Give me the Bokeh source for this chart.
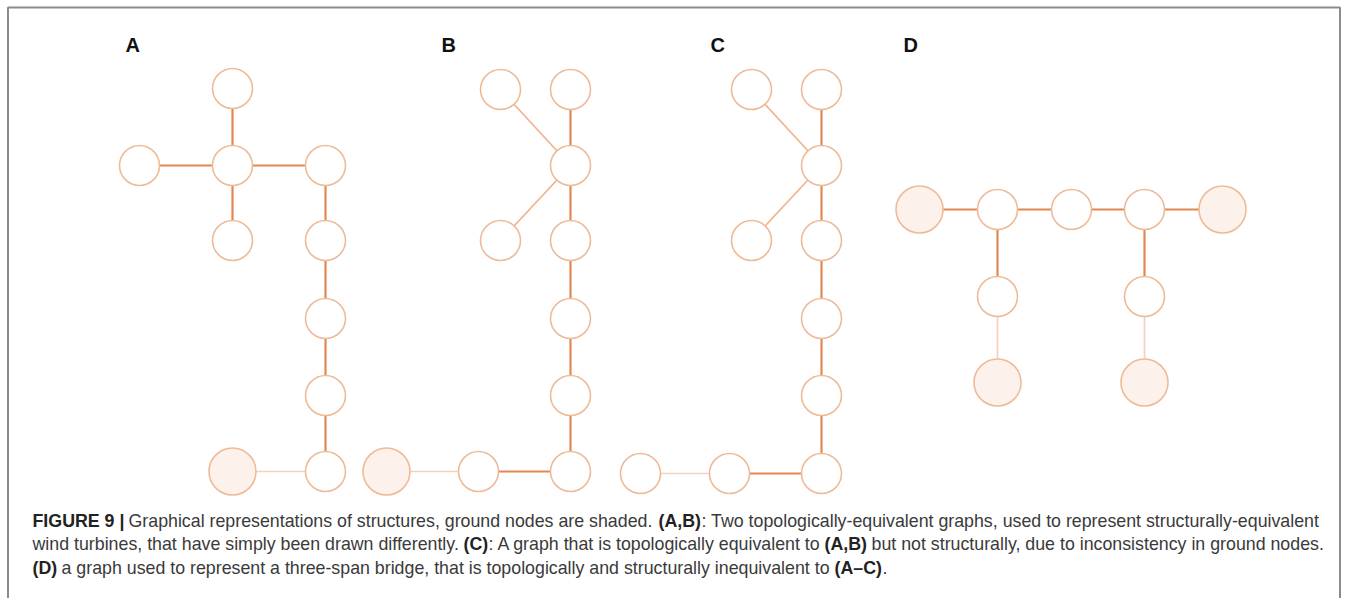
from bokeh.plotting import figure
from bokeh.models import Range1d, ColumnDataSource
from bokeh.embed import file_html
from bokeh.resources import INLINE
from bokeh.core.properties import value

# ---------------- data (diagram node coordinates, picture pixels) ----------------
panel_labels = ["A", "B", "C", "D"]
label_x = [125, 441, 710, 903]
label_y = [44, 44, 44, 44]

A_x = [232, 139, 232, 325, 232, 325, 325, 325, 325, 232]
A_y = [88, 165, 165, 165, 240, 240, 318, 395, 471, 471]
A_ground = [0, 0, 0, 0, 0, 0, 0, 0, 0, 1]
A_edges = [(0, 2, "d"), (1, 2, "d"), (2, 3, "d"), (2, 4, "d"), (3, 5, "d"),
           (5, 6, "d"), (6, 7, "d"), (7, 8, "d"), (8, 9, "l")]

B_x = [500, 570, 570, 500, 570, 570, 570, 570, 478, 386]
B_y = [89, 89, 165, 240, 240, 318, 395, 471, 471, 471]
B_ground = [0, 0, 0, 0, 0, 0, 0, 0, 0, 1]
B_edges = [(0, 2, "m"), (1, 2, "d"), (3, 2, "m"), (2, 4, "d"), (4, 5, "d"),
           (5, 6, "d"), (6, 7, "d"), (7, 8, "d"), (8, 9, "l")]

C_x = [751, 821, 821, 751, 821, 821, 821, 821, 729, 640]
C_y = [89, 89, 165, 240, 240, 318, 395, 473, 473, 473]
C_ground = [0, 0, 0, 0, 0, 0, 0, 0, 0, 0]
C_edges = [(0, 2, "m"), (1, 2, "d"), (3, 2, "m"), (2, 4, "d"), (4, 5, "d"),
           (5, 6, "d"), (6, 7, "d"), (7, 8, "d"), (8, 9, "l")]

D_x = [919, 997, 1071, 1144, 1222, 997, 1144, 997, 1144]
D_y = [209, 209, 209, 209, 209, 296, 296, 382, 382]
D_ground = [1, 0, 0, 0, 1, 0, 0, 1, 1]
D_edges = [(0, 1, "d"), (1, 2, "d"), (2, 3, "d"), (3, 4, "d"), (1, 5, "d"),
           (3, 6, "d"), (5, 7, "l"), (6, 8, "l")]

caption_text = [
    "FIGURE 9 |",
    "Graphical representations of structures, ground nodes are shaded.",
    "(A,B)",
    ": Two topologically-equivalent graphs, used to represent structurally-equivalent",
    "wind turbines, that have simply been drawn differently.",
    "(C)",
    ": A graph that is topologically equivalent to",
    "(A,B)",
    "but not structurally, due to inconsistency in ground nodes.",
    "(D)",
    "a graph used to represent a three-span bridge, that is topologically and structurally inequivalent to",
    "(A\u2013C)",
    ".",
]
caption_bold = [1, 0, 1, 0, 0, 1, 0, 1, 0, 1, 0, 1, 0]
caption_line = [0, 0, 0, 0, 1, 1, 1, 1, 1, 2, 2, 2, 2]
# layout: start x of every caption segment (px)
caption_x = [32, 128, 658, 701, 32, 463, 488, 824, 871, 32, 61, 834, 882]

# ---------------- styles ----------------
W, H = 1341, 598
NODE_LINE = "#eebb98"
GROUND_FILL = "#fcf1eb"
EDGE_COL = {"d": "#e3864f", "m": "#efb58f", "l": "#f5d2bd"}
EDGE_W = {"d": 2.2, "m": 1.7, "l": 1.7}
R_NODE, R_GROUND = 20, 23.5
LINE0, LINE_GAP = 520, 23.5

p = figure(width=W, height=H, output_backend="svg", toolbar_location=None,
           x_range=Range1d(0, W), y_range=Range1d(H, 0),
           x_axis_location=None, y_axis_location=None,
           min_border=0, min_border_left=0, min_border_right=0,
           min_border_top=0, min_border_bottom=0)
p.grid.visible = False
p.outline_line_color = None
p.background_fill_color = "white"
p.border_fill_color = "white"

# figure frame (gray box, open at the bottom)
p.multi_line(xs=[[7.5, 7.5, W - 1.5, W - 1.5]], ys=[[H + 20, 7, 7, H + 20]],
             line_color="#8c8c8c", line_width=2)

panels = [(A_x, A_y, A_ground, A_edges), (B_x, B_y, B_ground, B_edges),
          (C_x, C_y, C_ground, C_edges), (D_x, D_y, D_ground, D_edges)]

ex0, ey0, ex1, ey1, ecol, ew = [], [], [], [], [], []
nx, ny, nr, nf = [], [], [], []
for xs, ys, gs, edges in panels:
    for a, b, kind in edges:
        ex0.append(xs[a]); ey0.append(ys[a])
        ex1.append(xs[b]); ey1.append(ys[b])
        ecol.append(EDGE_COL[kind]); ew.append(EDGE_W[kind])
    for x, y, g in zip(xs, ys, gs):
        nx.append(x); ny.append(y)
        nr.append(R_GROUND if g else R_NODE)
        nf.append(GROUND_FILL if g else "white")

p.segment(x0="x0", y0="y0", x1="x1", y1="y1", line_color="c", line_width="w",
          source=ColumnDataSource(dict(x0=ex0, y0=ey0, x1=ex1, y1=ey1, c=ecol, w=ew)))
p.circle(x="x", y="y", radius="r", fill_color="f", line_color=NODE_LINE, line_width=1.6,
         source=ColumnDataSource(dict(x=nx, y=ny, r=nr, f=nf)))

p.text(x=label_x, y=label_y, text=panel_labels, text_font=value("Liberation Sans"),
       text_font_size="20px", text_font_style="bold", text_color="#111111",
       text_align="left", text_baseline="alphabetic")

for bold in (0, 1):
    idx = [i for i, b in enumerate(caption_bold) if b == bold]
    src = ColumnDataSource(dict(
        x=[caption_x[i] for i in idx],
        y=[LINE0 + LINE_GAP * caption_line[i] for i in idx],
        t=[caption_text[i] for i in idx]))
    p.text(x="x", y="y", text="t", source=src, text_font=value("Liberation Sans"),
           text_font_size="17.8px", text_font_style="bold" if bold else "normal",
           text_color="#222222" if bold else "#3a3a3a",
           text_align="left", text_baseline="alphabetic")

open("out.html", "w").write(file_html(p, INLINE))
